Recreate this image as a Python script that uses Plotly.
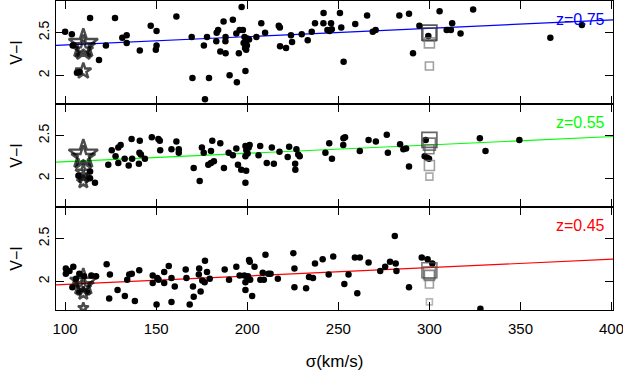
import plotly.graph_objects as go
from plotly.subplots import make_subplots

# velocity dispersion axis
x_ticks = [100, 150, 200, 250, 300, 350, 400]
y_ticks = [2, 2.5]

# ---- z = 0.75 (top panel)
top_x = [100, 103.7, 113.7, 127.4, 104.2, 118.6, 122.4, 106.5, 108, 131.4, 133.8, 133.8, 141, 147,
         150.2, 150.2, 149.8, 161.1, 169.5, 169.9, 176.2, 177.9, 179, 176.8, 183, 183.2, 184, 185.2,
         187, 188.1, 188, 188.1, 190.3, 192.1, 194, 194.3, 195.4, 195.8, 196.9, 197.6, 198.5, 200,
         199.3, 198, 199.8, 199.4, 201, 198.8, 199, 205, 207.7, 209.8, 217.3, 217.9, 218, 221.3, 224,
         224.6, 229.9, 233.2, 235.4, 237.2, 241.9, 241.8, 246, 244, 246.4, 245.2, 250.9, 251.6, 252.9,
         259.3, 265.8, 268.9, 270.5, 283.5, 288.8, 291, 294.5, 299.4, 305.6, 309.5, 311.8, 312.5,
         317.1, 324, 366.4, 383.7]
top_y = [2.51, 2.48, 2.67, 2.67, 2.35, 2.18, 2.35, 2.03, 2.04, 2.44, 2.47, 2.38, 2.29, 2.58,
         2.52, 2.35, 2.30, 2.69, 2.45, 1.97, 2.35, 2.45, 1.97, 1.72, 2.40, 2.50, 2.53, 2.28,
         2.63, 2.45, 2.40, 2.26, 2.00, 2.65, 2.49, 1.92, 2.26, 2.53, 2.80, 2.53, 2.45, 2.43,
         2.40, 2.38, 2.35, 2.30, 2.42, 2.32, 2.05, 2.45, 2.61, 2.50, 2.58, 2.56, 2.34, 2.32, 2.47,
         2.39, 2.48, 2.41, 2.51, 2.61, 2.73, 2.61, 2.61, 2.53, 2.54, 2.52, 2.73, 2.56, 2.16,
         2.60, 2.70, 2.51, 2.53, 2.70, 2.72, 2.26, 2.58, 2.46, 2.75, 2.53, 2.53, 2.61,
         2.49, 2.77, 2.44, 2.59]
top_star_y = [2.37, 2.33, 2.29, 2.05]
top_star_size = [22, 18, 15, 12]
top_sq_y = [2.50, 2.48, 2.38, 2.11]
top_sq_size = [15, 13, 10, 8]
top_sq_color = ["#111111", "#444444", "#777777", "#777777"]
top_fit = [2.35, 2.65]

# ---- z = 0.55 (middle panel)
mid_x = [107.3, 113.7, 113.7, 116.4, 123.7, 125.6, 127.7, 129.2, 130.5, 129.2, 132.7, 134.9, 136.5,
         136.8, 140.5, 141, 140.8, 141.6, 143.8, 147.6, 151.2, 152, 152.2, 158.4, 161.1, 162.4, 162.4,
         170.6, 173.9, 175.1, 176.1, 178.6, 180.1, 181.7, 180.1, 180.8, 185.2, 187.2, 189.8, 192.1, 194,
         194.9, 196.7, 199, 200.8, 199.5, 200.2, 199, 201.3, 199.4, 199, 206.2, 207.1, 210.7, 213.5,
         214.6, 217.7, 222.2, 223, 226.3, 226.4, 227, 228, 228.8, 242.9, 245, 246.5, 252.8, 253.7,
         252.7, 261.8, 266.6, 270.6, 276.6, 277.2, 283.9, 285.7, 287.2, 288.8, 298, 297.4, 298.7,
         299.8, 327.7, 330.8, 349.4]
mid_y = [2.03, 2.08, 2.00, 1.95, 2.16, 2.33, 2.26, 2.36, 2.39, 2.18, 2.23, 2.15, 2.46,
         2.23, 2.17, 2.44, 2.30, 2.28, 2.23, 2.48, 2.46, 2.44, 2.33, 2.34, 2.43, 2.34, 2.30,
         2.12, 1.97, 2.36, 2.30, 2.16, 2.18, 2.20, 2.32, 2.44, 2.41, 2.12, 2.30, 2.27, 2.35,
         2.16, 2.10, 2.38, 2.36, 2.33, 2.29, 2.26, 2.39, 2.09, 1.95, 2.27, 2.38, 2.18, 2.36,
         2.17, 2.31, 2.25, 2.37, 2.17, 2.10, 2.34, 2.28, 2.26, 2.30, 2.41, 2.23, 2.47, 2.48,
         2.39, 2.32, 2.45, 2.43, 2.51, 2.30, 2.40, 2.34, 2.35, 2.14, 2.45, 2.26, 2.24,
         2.23, 2.47, 2.32, 2.45]
mid_star_y = [2.28, 2.24, 2.07, 2.02, 1.96]
mid_star_size = [22, 18, 12, 10, 10]
mid_sq_y = [2.45, 2.40, 2.34, 2.15, 2.02]
mid_sq_size = [15, 12, 9, 10, 7]
mid_sq_color = ["#222222", "#444444", "#555555", "#777777", "#888888"]
mid_fit = [2.19, 2.49]

# ---- z = 0.45 (bottom panel)
bot_x = [100.4, 100.4, 102.4, 104.5, 104, 106, 107.8, 110.4, 114.4, 117, 122.8, 124.2, 124.6, 128.8,
         132.8, 134.1, 135.2, 136.6, 138.3, 140.7, 148.1, 150.6, 148.1, 151.3, 150.2, 154.4, 154.4,
         156.9, 158.4, 158.4, 160.2, 166.2, 166.6, 168.4, 170.2, 170.6, 173.6, 173.4, 174.4, 175.3,
         176.6, 176.8, 177.9, 179.4, 187.6, 190, 194, 195.8, 198.4, 200.2, 201.6, 199, 200.4, 201,
         201.4, 199, 202.7, 204, 207.2, 209.1, 208.5, 210, 211.6, 212.8, 216.8, 225.3, 225.9, 225.9,
         232.3, 233.9, 236.1, 237.2, 241.4, 244.7, 247.2, 253.3, 255.6, 259.1, 261.8, 260.4, 266.6,
         273, 275.7, 278.4, 281, 281.5, 281.9, 288.8, 295.8, 299, 301.6, 328]
bot_y = [2.15, 2.09, 2.12, 2.17, 1.93, 2.03, 2.09, 2.06, 2.07, 2.06, 2.20, 1.80, 2.08, 1.90,
         1.83, 2.02, 2.08, 2.09, 1.77, 2.13, 2.07, 2.04, 1.98, 2.02, 1.73, 2.11, 1.98,
         2.18, 2.04, 1.76, 1.94, 2.14, 2.04, 1.73, 1.94, 1.82, 2.15, 2.08, 1.88, 2.01,
         1.99, 2.24, 2.11, 2.03, 2.14, 2.02, 2.17, 2.07, 2.07, 2.04, 2.02, 1.99, 2.06, 2.25,
         2.23, 1.90, 1.83, 2.17, 2.02, 2.02, 2.10, 2.31, 2.09, 2.09, 2.03, 2.33, 2.15, 1.93,
         1.92, 2.05, 2.04, 2.21, 2.26, 2.08, 2.29, 1.97, 2.08, 2.28, 2.28, 1.86, 2.22,
         2.12, 2.17, 2.23, 2.53, 2.21, 2.12, 1.93, 2.28, 2.26, 2.21, 1.68]
bot_star_y = [1.99, 1.95, 1.92, 1.86, 1.69]
bot_star_size = [20, 16, 12, 10, 8]
bot_sq_y = [2.13, 2.10, 2.07, 1.97, 1.76]
bot_sq_size = [15, 12, 10, 8, 6]
bot_sq_color = ["#444444", "#555555", "#555555", "#777777", "#999999"]
bot_fit = [1.96, 2.26]

fit_x = [95, 401]
star_x = 110
sq_x = 300

panels = [
    (top_x, top_y, top_star_y, top_star_size, top_sq_y, top_sq_size, top_sq_color, top_fit, "#0000ff", "z=0.75"),
    (mid_x, mid_y, mid_star_y, mid_star_size, mid_sq_y, mid_sq_size, mid_sq_color, mid_fit, "#00ff00", "z=0.55"),
    (bot_x, bot_y, bot_star_y, bot_star_size, bot_sq_y, bot_sq_size, bot_sq_color, bot_fit, "#ff0000", "z=0.45"),
]

fig = make_subplots(rows=3, cols=1, shared_xaxes=True, vertical_spacing=0)

for i, (px, py, sy, ss, qy, qs, qc, fit, col, lab) in enumerate(panels):
    row = i + 1
    fig.add_trace(go.Scatter(x=fit_x, y=fit, mode="lines", line=dict(color=col, width=1.2),
                             showlegend=False, hoverinfo="skip"), row=row, col=1)
    fig.add_trace(go.Scatter(x=px, y=py, mode="markers",
                             marker=dict(color="black", size=6.5), showlegend=False), row=row, col=1)
    fig.add_trace(go.Scatter(x=[star_x] * len(sy), y=sy, mode="markers",
                             marker=dict(symbol="star-open", size=ss, color="black",
                                         line=dict(width=2.4, color="black")),
                             showlegend=False), row=row, col=1)
    fig.add_trace(go.Scatter(x=[sq_x] * len(qy), y=qy, mode="markers",
                             marker=dict(symbol="square-open", size=qs, color=qc,
                                         line=dict(width=1.6, color=qc)),
                             showlegend=False), row=row, col=1)
    fig.add_annotation(text=lab, xref="x domain", yref="y domain" if row == 1 else f"y{row} domain",
                       x=0.99, y=0.82, xanchor="right", yanchor="middle", showarrow=False,
                       font=dict(color=col, size=16, family="Liberation Sans"))
    fig.update_yaxes(range=[1.665, 2.87], tickvals=y_ticks, ticktext=["2", "2.5"], tickangle=-90,
                     ticks="inside", ticklen=8, tickcolor="black", showline=True, linecolor="black",
                     linewidth=1, mirror="ticks", showgrid=False, zeroline=False, automargin=False,
                     title=dict(text="V\u2212I", standoff=9, font=dict(size=16)),
                     tickfont=dict(size=14), row=row, col=1)
    fig.update_xaxes(range=[95, 400.8], tickvals=x_ticks, ticks="inside", ticklen=8, tickcolor="black",
                     showline=True, linecolor="black", linewidth=1, mirror="ticks",
                     showgrid=False, zeroline=False, ticklabeloverflow="allow", row=row, col=1)

fig.update_xaxes(title=dict(text="\u03c3(km/s)", font=dict(size=17), standoff=19),
                 tickfont=dict(size=15), ticklabelstandoff=5, automargin=False, row=3, col=1)

fig.update_layout(width=623, height=377, margin=dict(l=56, r=10, t=1, b=67),
                  plot_bgcolor="white", paper_bgcolor="white",
                  font=dict(family="Liberation Sans", color="black"))

# drop the browser's default 8px page margin so the figure sits at the window corner
fig.write_html("out.html", config={"displayModeBar": False},
               post_script="document.body.style.margin='0';")
